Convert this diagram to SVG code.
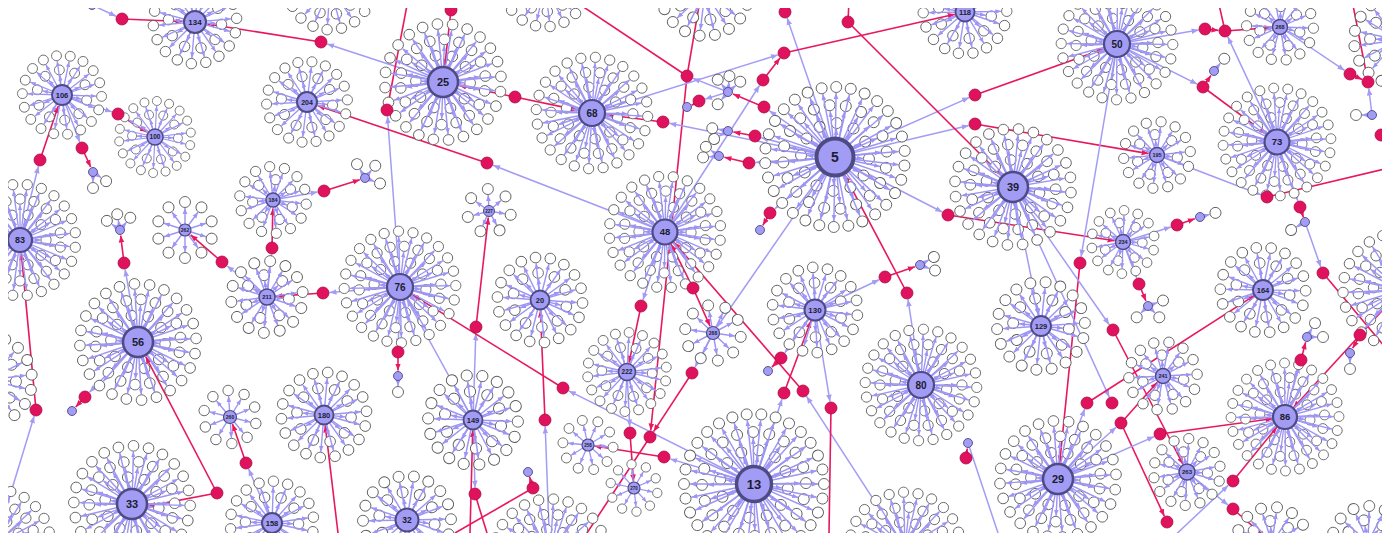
<svg xmlns="http://www.w3.org/2000/svg" width="1389" height="533" viewBox="0 0 1389 533">
<style>
.sp{stroke:#9d95f5;stroke-width:1.45;marker-end:url(#ap)}
.lf{fill:#fff;stroke:#5c5c5c;stroke-width:.9}
.hb{fill:#a29cf4;stroke:#4e4a82}
.th{fill:#a29cf4;stroke:#4e4a82;stroke-width:.9}
.lb{font-family:"Liberation Sans",Arial,sans-serif;font-weight:bold;text-anchor:middle;fill:#1c1c30}
.rd{fill:#e0115d;stroke:#a80c45;stroke-width:.8}
.pe{stroke:#a39cf5;stroke-width:1.5;fill:none;marker-end:url(#ap2)}
.re{stroke:#e8175f;stroke-width:1.6;fill:none;marker-end:url(#ar)}
.rp{stroke:#e8175f;stroke-width:1.6;fill:none}
.pp{stroke:#a39cf5;stroke-width:1.5;fill:none}
</style>
<defs>
<marker id="ap" viewBox="0 0 10 10" refX="10" refY="5" markerWidth="6" markerHeight="6" markerUnits="userSpaceOnUse" orient="auto"><path d="M0,1L10,5L0,9z" fill="#9d95f5"/></marker>
<marker id="ap2" viewBox="0 0 10 10" refX="10" refY="5" markerWidth="7" markerHeight="7" markerUnits="userSpaceOnUse" orient="auto"><path d="M0,1L10,5L0,9z" fill="#a39cf5"/></marker>
<marker id="ar" viewBox="0 0 10 10" refX="10" refY="5" markerWidth="7" markerHeight="7" markerUnits="userSpaceOnUse" orient="auto"><path d="M0,1L10,5L0,9z" fill="#e8175f"/></marker>
<clipPath id="cv"><rect x="8" y="8" width="1374" height="525"/></clipPath>
<g id="u16"><line x2="10" class="sp"/><circle cx="16" r="5.5" class="lf"/></g>
<g id="u22"><line x2="16" class="sp"/><circle cx="22" r="5.5" class="lf"/></g>
<g id="u28"><line x2="22" class="sp"/><circle cx="28" r="5.5" class="lf"/></g>
<g id="u34"><line x2="28" class="sp"/><circle cx="34" r="5.5" class="lf"/></g>
<g id="u36"><line x2="30" class="sp"/><circle cx="36" r="5.5" class="lf"/></g>
<g id="u44"><line x2="38" class="sp"/><circle cx="44" r="5.5" class="lf"/></g>
<g id="u52"><line x2="46" class="sp"/><circle cx="52" r="5.5" class="lf"/></g>
<g id="u60"><line x2="54" class="sp"/><circle cx="60" r="5.5" class="lf"/></g>
<g id="u70"><line x2="64" class="sp"/><circle cx="70" r="5.5" class="lf"/></g>
<g id="Sa"><use href="#u22"/><use href="#u22" transform="rotate(51.4)"/><use href="#u22" transform="rotate(102.9)"/><use href="#u22" transform="rotate(154.3)"/><use href="#u22" transform="rotate(205.7)"/><use href="#u22" transform="rotate(257.1)"/><use href="#u22" transform="rotate(308.6)"/></g>
<g id="Sb"><use href="#u36" transform="rotate(12.9)"/><use href="#u36" transform="rotate(38.6)"/><use href="#u36" transform="rotate(64.3)"/><use href="#u36" transform="rotate(90)"/><use href="#u36" transform="rotate(115.7)"/><use href="#u36" transform="rotate(141.4)"/><use href="#u36" transform="rotate(167.1)"/><use href="#u36" transform="rotate(192.9)"/><use href="#u36" transform="rotate(218.6)"/><use href="#u36" transform="rotate(244.3)"/><use href="#u36" transform="rotate(270)"/><use href="#u36" transform="rotate(295.7)"/><use href="#u36" transform="rotate(321.4)"/><use href="#u36" transform="rotate(347.1)"/></g>
<g id="Ma"><use href="#u28"/><use href="#u28" transform="rotate(36)"/><use href="#u28" transform="rotate(72)"/><use href="#u28" transform="rotate(108)"/><use href="#u28" transform="rotate(144)"/><use href="#u28" transform="rotate(180)"/><use href="#u28" transform="rotate(216)"/><use href="#u28" transform="rotate(252)"/><use href="#u28" transform="rotate(288)"/><use href="#u28" transform="rotate(324)"/></g>
<g id="Mb"><use href="#u44" transform="rotate(10)"/><use href="#u44" transform="rotate(30)"/><use href="#u44" transform="rotate(50)"/><use href="#u44" transform="rotate(70)"/><use href="#u44" transform="rotate(90)"/><use href="#u44" transform="rotate(110)"/><use href="#u44" transform="rotate(130)"/><use href="#u44" transform="rotate(150)"/><use href="#u44" transform="rotate(170)"/><use href="#u44" transform="rotate(190)"/><use href="#u44" transform="rotate(210)"/><use href="#u44" transform="rotate(230)"/><use href="#u44" transform="rotate(250)"/><use href="#u44" transform="rotate(270)"/><use href="#u44" transform="rotate(290)"/><use href="#u44" transform="rotate(310)"/><use href="#u44" transform="rotate(330)"/><use href="#u44" transform="rotate(350)"/></g>
<g id="Lc"><use href="#u60" transform="rotate(7.5)"/><use href="#u60" transform="rotate(22.5)"/><use href="#u60" transform="rotate(37.5)"/><use href="#u60" transform="rotate(52.5)"/><use href="#u60" transform="rotate(67.5)"/><use href="#u60" transform="rotate(82.5)"/><use href="#u60" transform="rotate(97.5)"/><use href="#u60" transform="rotate(112.5)"/><use href="#u60" transform="rotate(127.5)"/><use href="#u60" transform="rotate(142.5)"/><use href="#u60" transform="rotate(157.5)"/><use href="#u60" transform="rotate(172.5)"/><use href="#u60" transform="rotate(187.5)"/><use href="#u60" transform="rotate(202.5)"/><use href="#u60" transform="rotate(217.5)"/><use href="#u60" transform="rotate(232.5)"/><use href="#u60" transform="rotate(247.5)"/><use href="#u60" transform="rotate(262.5)"/><use href="#u60" transform="rotate(277.5)"/><use href="#u60" transform="rotate(292.5)"/><use href="#u60" transform="rotate(307.5)"/><use href="#u60" transform="rotate(322.5)"/><use href="#u60" transform="rotate(337.5)"/><use href="#u60" transform="rotate(352.5)"/></g>
<g id="Xa"><use href="#u34"/><use href="#u34" transform="rotate(30)"/><use href="#u34" transform="rotate(60)"/><use href="#u34" transform="rotate(90)"/><use href="#u34" transform="rotate(120)"/><use href="#u34" transform="rotate(150)"/><use href="#u34" transform="rotate(180)"/><use href="#u34" transform="rotate(210)"/><use href="#u34" transform="rotate(240)"/><use href="#u34" transform="rotate(270)"/><use href="#u34" transform="rotate(300)"/><use href="#u34" transform="rotate(330)"/></g>
<g id="Xb"><use href="#u52" transform="rotate(9)"/><use href="#u52" transform="rotate(27)"/><use href="#u52" transform="rotate(45)"/><use href="#u52" transform="rotate(63)"/><use href="#u52" transform="rotate(81)"/><use href="#u52" transform="rotate(99)"/><use href="#u52" transform="rotate(117)"/><use href="#u52" transform="rotate(135)"/><use href="#u52" transform="rotate(153)"/><use href="#u52" transform="rotate(171)"/><use href="#u52" transform="rotate(189)"/><use href="#u52" transform="rotate(207)"/><use href="#u52" transform="rotate(225)"/><use href="#u52" transform="rotate(243)"/><use href="#u52" transform="rotate(261)"/><use href="#u52" transform="rotate(279)"/><use href="#u52" transform="rotate(297)"/><use href="#u52" transform="rotate(315)"/><use href="#u52" transform="rotate(333)"/><use href="#u52" transform="rotate(351)"/></g>
<g id="Xc"><use href="#u70" transform="rotate(4)"/><use href="#u70" transform="rotate(16)"/><use href="#u70" transform="rotate(28)"/><use href="#u70" transform="rotate(40)"/><use href="#u70" transform="rotate(52)"/><use href="#u70" transform="rotate(64)"/><use href="#u70" transform="rotate(76)"/><use href="#u70" transform="rotate(88)"/><use href="#u70" transform="rotate(100)"/><use href="#u70" transform="rotate(112)"/><use href="#u70" transform="rotate(124)"/><use href="#u70" transform="rotate(136)"/><use href="#u70" transform="rotate(148)"/><use href="#u70" transform="rotate(160)"/><use href="#u70" transform="rotate(172)"/><use href="#u70" transform="rotate(184)"/><use href="#u70" transform="rotate(196)"/><use href="#u70" transform="rotate(208)"/><use href="#u70" transform="rotate(220)"/><use href="#u70" transform="rotate(232)"/><use href="#u70" transform="rotate(244)"/><use href="#u70" transform="rotate(256)"/><use href="#u70" transform="rotate(268)"/><use href="#u70" transform="rotate(280)"/><use href="#u70" transform="rotate(292)"/><use href="#u70" transform="rotate(304)"/><use href="#u70" transform="rotate(316)"/><use href="#u70" transform="rotate(328)"/><use href="#u70" transform="rotate(340)"/><use href="#u70" transform="rotate(352)"/></g>
<g id="TS"><use href="#Sa"/><use href="#Sb"/></g>
<g id="TM"><use href="#Ma"/><use href="#Mb"/></g>
<g id="TL"><use href="#Ma"/><use href="#Mb"/><use href="#Lc"/></g>
<g id="TX"><use href="#Xa"/><use href="#Xb"/><use href="#Xc"/></g>
</defs>
<rect width="1389" height="533" fill="#fff"/>
<g clip-path="url(#cv)">
<g id="connectors">
<line class="pe" x1="92" y1="5" x2="116.1" y2="16.3"/>
<line class="re" x1="122" y1="19" x2="182.5" y2="21.5"/>
<line class="pe" x1="443" y1="82" x2="327.2" y2="44"/>
<line class="re" x1="321" y1="42" x2="207.3" y2="24"/>
<line class="pe" x1="20" y1="240" x2="38.4" y2="166.3"/>
<line class="re" x1="40" y1="160" x2="58.3" y2="105.9"/>
<line class="pe" x1="62" y1="95" x2="111.8" y2="111.9"/>
<line class="re" x1="118" y1="114" x2="146.9" y2="132"/>
<line class="pe" x1="62" y1="95" x2="79.7" y2="141.9"/>
<line class="re" x1="82" y1="148" x2="90.7" y2="167"/>
<line class="pe" x1="400" y1="287" x2="387.5" y2="116.5"/>
<line class="rp" x1="387" y1="110" x2="408" y2="0"/>
<line class="re" x1="451" y1="10" x2="444.8" y2="65.6"/>
<line class="re" x1="515" y1="97" x2="459.2" y2="85.4"/>
<line class="re" x1="515" y1="97" x2="577.8" y2="110.1"/>
<line class="pe" x1="665" y1="232" x2="493.1" y2="165.3"/>
<line class="re" x1="487" y1="163" x2="317.9" y2="105.7"/>
<line class="pe" x1="273" y1="200" x2="317.6" y2="192.1"/>
<line class="re" x1="324" y1="191" x2="359.8" y2="179.7"/>
<line class="pe" x1="267" y1="297" x2="271.3" y2="254.5"/>
<line class="re" x1="272" y1="248" x2="272.8" y2="208.5"/>
<line class="pe" x1="267" y1="297" x2="227.1" y2="266"/>
<line class="re" x1="222" y1="262" x2="190.7" y2="234.9"/>
<line class="pe" x1="138" y1="342" x2="125.1" y2="269.4"/>
<line class="re" x1="124" y1="263" x2="120.7" y2="235.5"/>
<line class="pe" x1="400" y1="287" x2="329.5" y2="292.5"/>
<line class="re" x1="323" y1="293" x2="275.5" y2="296.4"/>
<line class="pe" x1="272" y1="523" x2="248.6" y2="469"/>
<line class="re" x1="246" y1="463" x2="232.5" y2="424.1"/>
<line class="re" x1="217" y1="493" x2="145.7" y2="356.6"/>
<line class="re" x1="217" y1="493" x2="148.4" y2="506.1"/>
<line class="pe" x1="138" y1="342" x2="89.5" y2="392.3"/>
<line class="re" x1="85" y1="397" x2="75.7" y2="407"/>
<line class="pe" x1="-5" y1="545" x2="34.1" y2="416.2"/>
<line class="re" x1="36" y1="410" x2="21.3" y2="253.4"/>
<line class="pe" x1="400" y1="287" x2="398.2" y2="345.5"/>
<line class="re" x1="398" y1="352" x2="398" y2="370.5"/>
<line class="pe" x1="473" y1="420" x2="475.8" y2="333.5"/>
<line class="re" x1="476" y1="327" x2="488.3" y2="217.5"/>
<line class="pe" x1="754" y1="484" x2="568.8" y2="390.9"/>
<line class="re" x1="563" y1="388" x2="412.3" y2="294.6"/>
<line class="pe" x1="550" y1="556" x2="545.2" y2="426.5"/>
<line class="re" x1="545" y1="420" x2="540.4" y2="310.5"/>
<line class="pe" x1="665" y1="232" x2="643" y2="299.8"/>
<line class="re" x1="641" y1="306" x2="629" y2="362.7"/>
<line class="pe" x1="627" y1="372" x2="629.7" y2="426.5"/>
<line class="re" x1="630" y1="433" x2="633.5" y2="481.5"/>
<line class="rp" x1="700" y1="0" x2="687" y2="76"/>
<line class="rp" x1="573" y1="0" x2="687" y2="76"/>
<line class="re" x1="687" y1="76" x2="650.7" y2="430.5"/>
<line class="pe" x1="713" y1="333" x2="695" y2="367.2"/>
<line class="re" x1="692" y1="373" x2="653.6" y2="431.6"/>
<line class="rp" x1="650" y1="437" x2="587" y2="533"/>
<line class="pe" x1="754" y1="484" x2="670.2" y2="458.9"/>
<line class="re" x1="664" y1="457" x2="594.4" y2="446"/>
<line class="re" x1="693" y1="288" x2="671" y2="244.1"/>
<line class="re" x1="693" y1="288" x2="710" y2="326.1"/>
<line class="re" x1="803" y1="391" x2="673.9" y2="242.2"/>
<line class="pe" x1="905" y1="548" x2="806.6" y2="396.4"/>
<line class="pe" x1="815" y1="310" x2="784.8" y2="352.7"/>
<line class="re" x1="781" y1="358" x2="771.9" y2="367.1"/>
<line class="pe" x1="754" y1="484" x2="782" y2="399.2"/>
<line class="re" x1="784" y1="393" x2="811" y2="320.8"/>
<line class="pe" x1="815" y1="310" x2="830" y2="401.6"/>
<line class="rp" x1="831" y1="408" x2="829" y2="533"/>
<line class="pe" x1="815" y1="310" x2="879.1" y2="279.8"/>
<line class="re" x1="885" y1="277" x2="914.8" y2="266.8"/>
<line class="pe" x1="921" y1="385" x2="908" y2="299.4"/>
<line class="re" x1="907" y1="293" x2="844.6" y2="175.1"/>
<line class="pe" x1="835" y1="157" x2="942.2" y2="212"/>
<line class="re" x1="948" y1="215" x2="1114.6" y2="240.7"/>
<line class="pe" x1="835" y1="157" x2="968.7" y2="125.5"/>
<line class="re" x1="975" y1="124" x2="1148.6" y2="153.6"/>
<line class="pe" x1="835" y1="157" x2="969.1" y2="97.6"/>
<line class="re" x1="975" y1="95" x2="1103.4" y2="48.9"/>
<line class="re" x1="848" y1="22" x2="1001.3" y2="175.3"/>
<line class="rp" x1="849" y1="0" x2="848" y2="22"/>
<line class="pe" x1="835" y1="157" x2="787.1" y2="18.1"/>
<line class="pe" x1="592" y1="113" x2="777.8" y2="54.9"/>
<line class="re" x1="784" y1="53" x2="954.8" y2="14.3"/>
<line class="re" x1="763" y1="80" x2="780" y2="58.1"/>
<line class="pe" x1="665" y1="232" x2="759.5" y2="85.5"/>
<line class="pe" x1="835" y1="157" x2="761.3" y2="137.7"/>
<line class="re" x1="755" y1="136" x2="733.4" y2="132"/>
<line class="pe" x1="835" y1="157" x2="755.5" y2="162.5"/>
<line class="re" x1="749" y1="163" x2="724.4" y2="157.3"/>
<line class="pe" x1="835" y1="157" x2="769.3" y2="110.7"/>
<line class="re" x1="764" y1="107" x2="733.1" y2="94.1"/>
<line class="pe" x1="728" y1="92" x2="705.2" y2="99.1"/>
<line class="re" x1="699" y1="101" x2="691.7" y2="105.2"/>
<line class="pe" x1="728" y1="92" x2="693.1" y2="78.4"/>
<line class="pe" x1="835" y1="157" x2="669.4" y2="123.3"/>
<line class="re" x1="663" y1="122" x2="606.4" y2="114.8"/>
<line class="pe" x1="835" y1="157" x2="774.9" y2="208.8"/>
<line class="re" x1="770" y1="213" x2="762.8" y2="225.3"/>
<line class="pe" x1="1117" y1="44" x2="1198.6" y2="30.1"/>
<line class="re" x1="1205" y1="29" x2="1218.5" y2="30.4"/>
<line class="re" x1="1225" y1="31" x2="1271.5" y2="27.6"/>
<line class="rp" x1="1218" y1="0" x2="1225" y2="31"/>
<line class="pe" x1="1277" y1="142" x2="1227.8" y2="36.9"/>
<line class="pe" x1="1117" y1="44" x2="1197.2" y2="84.1"/>
<line class="re" x1="1203" y1="87" x2="1210.9" y2="75.5"/>
<line class="re" x1="1203" y1="87" x2="1266.2" y2="133.9"/>
<line class="pe" x1="1280" y1="27" x2="1344.6" y2="70.4"/>
<line class="re" x1="1350" y1="74" x2="1362.1" y2="79.4"/>
<line class="rp" x1="1352" y1="0" x2="1368" y2="82"/>
<line class="pe" x1="1372" y1="115" x2="1368.8" y2="88.5"/>
<line class="pe" x1="1157" y1="155" x2="1260.9" y2="194.7"/>
<line class="rp" x1="1267" y1="197" x2="1389" y2="168"/>
<line class="pe" x1="1277" y1="142" x2="1297.8" y2="200.9"/>
<line class="re" x1="1300" y1="207" x2="1303.4" y2="217.3"/>
<line class="pe" x1="1117" y1="44" x2="1081.1" y2="256.6"/>
<line class="re" x1="1080" y1="263" x2="1059.7" y2="462.6"/>
<line class="pe" x1="1123" y1="242" x2="1136.7" y2="277.9"/>
<line class="re" x1="1139" y1="284" x2="1145.9" y2="300.9"/>
<line class="pe" x1="1013" y1="187" x2="1109.3" y2="324.7"/>
<line class="re" x1="1113" y1="330" x2="1183.1" y2="464.5"/>
<line class="pe" x1="1013" y1="187" x2="1109.3" y2="397.1"/>
<line class="pe" x1="1058" y1="479" x2="1084.7" y2="409.1"/>
<line class="re" x1="1087" y1="403" x2="1254.2" y2="295.7"/>
<line class="pe" x1="1058" y1="479" x2="1116.1" y2="427.3"/>
<line class="re" x1="1121" y1="423" x2="1157.3" y2="382.3"/>
<line class="re" x1="1121" y1="423" x2="1164.3" y2="516.1"/>
<line class="pe" x1="1058" y1="479" x2="1154.1" y2="436.6"/>
<line class="re" x1="1160" y1="434" x2="1272.6" y2="418.7"/>
<line class="pe" x1="1170" y1="540" x2="1228.2" y2="485.4"/>
<line class="re" x1="1233" y1="481" x2="1277.1" y2="426.7"/>
<line class="pe" x1="1187" y1="472" x2="1227.9" y2="504.9"/>
<line class="re" x1="1233" y1="509" x2="1265.6" y2="537.4"/>
<line class="pe" x1="1285" y1="417" x2="1299.2" y2="366.3"/>
<line class="re" x1="1301" y1="360" x2="1305.6" y2="342.3"/>
<line class="re" x1="1360" y1="335" x2="1352.7" y2="348.2"/>
<line class="re" x1="1360" y1="335" x2="1293.4" y2="407.8"/>
<line class="rp" x1="1389" y1="303" x2="1360" y2="335"/>
<line class="rp" x1="1323" y1="273" x2="1389" y2="352"/>
<line class="pe" x1="1305" y1="222" x2="1320.8" y2="266.9"/>
<line class="re" x1="966" y1="458" x2="967.3" y2="448.5"/>
<line class="pp" x1="968" y1="443" x2="998" y2="533"/>
<line class="pe" x1="1123" y1="242" x2="1170.8" y2="227"/>
<line class="re" x1="1177" y1="225" x2="1194.8" y2="218.8"/>
<line class="pe" x1="473" y1="420" x2="407" y2="299.7"/>
<line class="pe" x1="835" y1="157" x2="717.3" y2="326.8"/>
<line class="pe" x1="1013" y1="187" x2="1038.9" y2="315.7"/>
<line class="pe" x1="473" y1="420" x2="475" y2="487.5"/>
<line class="rp" x1="475" y1="494" x2="487" y2="533"/>
<line class="re" x1="470" y1="533" x2="472.7" y2="430.5"/>
<line class="re" x1="338" y1="533" x2="325.2" y2="425.4"/>
<line class="re" x1="533" y1="488" x2="529.5" y2="476.8"/>
<line class="rp" x1="533" y1="488" x2="455" y2="533"/>
</g>
<g id="partial-hubs">
<use href="#TM" transform="translate(330 -12) rotate(4) scale(.95)"/>
<use href="#TM" transform="translate(545 -15) rotate(13) scale(.95)"/>
<use href="#TM" transform="translate(705 -8) rotate(7)"/>
<use href="#TM" transform="translate(1398 40) rotate(2)"/>
<use href="#TL" transform="translate(1400 290) rotate(5) scale(.95)"/>
<use href="#TL" transform="translate(-5 545) rotate(9) scale(.93)"/>
<use href="#TM" transform="translate(-12 380) rotate(3)"/>
<use href="#TL" transform="translate(550 556) rotate(11) scale(.95)"/>
<use href="#TL" transform="translate(905 548) rotate(6) scale(.93)"/>
<use href="#TS" transform="translate(1272 543) rotate(8)"/>
<use href="#TS" transform="translate(1368 542) rotate(2)"/>
<circle cx="1272" cy="543" r="8" class="hb" stroke-width="1.5"/>
</g>
<g id="n134"><use href="#TM" transform="translate(195 22) rotate(5) scale(.95)"/><circle cx="195" cy="22" r="11" class="hb" stroke-width="2"/><text x="195" y="24.9" class="lb" font-size="8">134</text></g>
<g id="n106"><use href="#TM" transform="translate(62 95) rotate(12) scale(.9)"/><circle cx="62" cy="95" r="10" class="hb" stroke-width="1.8"/><text x="62" y="97.7" class="lb" font-size="7.5">106</text></g>
<g id="n100"><use href="#TM" transform="translate(155 137) rotate(3) scale(.82)"/><circle cx="155" cy="137" r="8" class="hb" stroke-width="1.5"/><text x="155" y="139.3" class="lb" font-size="6.5">100</text></g>
<g id="n83"><use href="#TL" transform="translate(20 240) scale(.93)"/><circle cx="20" cy="240" r="12" class="hb" stroke-width="2.2"/><text x="20" y="243.2" class="lb" font-size="9">83</text></g>
<g id="n56"><use href="#TL" transform="translate(138 342) rotate(4) scale(.97)"/><circle cx="138" cy="342" r="15" class="hb" stroke-width="2.5"/><text x="138" y="346" class="lb" font-size="11">56</text></g>
<g id="n33"><use href="#TL" transform="translate(132 504) rotate(9) scale(.97)"/><circle cx="132" cy="504" r="15" class="hb" stroke-width="2.5"/><text x="132" y="508" class="lb" font-size="11">33</text></g>
<g id="n158"><use href="#TM" transform="translate(272 523) rotate(2) scale(.95)"/><circle cx="272" cy="523" r="10" class="hb" stroke-width="2"/><text x="272" y="525.7" class="lb" font-size="7.5">158</text></g>
<g id="n204"><use href="#TM" transform="translate(307 102) rotate(7) scale(.92)"/><circle cx="307" cy="102" r="10" class="hb" stroke-width="2"/><text x="307" y="104.5" class="lb" font-size="7">204</text></g>
<g id="n25"><use href="#TL" transform="translate(443 82) rotate(2) scale(.97)"/><circle cx="443" cy="82" r="15" class="hb" stroke-width="2.5"/><text x="443" y="86" class="lb" font-size="11">25</text></g>
<g id="n68"><use href="#TL" transform="translate(592 113) rotate(11) scale(.93)"/><circle cx="592" cy="113" r="13" class="hb" stroke-width="2.2"/><text x="592" y="116.6" class="lb" font-size="10">68</text></g>
<g id="n184"><use href="#TS" transform="translate(273 200) rotate(20) scale(.93)"/><circle cx="273" cy="200" r="7" class="hb" stroke-width="1.4"/><text x="273" y="202" class="lb" font-size="5.5">184</text></g>
<g id="n262"><use href="#Ma" transform="translate(185 230) rotate(18)"/><circle cx="185" cy="230" r="6" class="hb" stroke-width="1.2"/><text x="185" y="231.8" class="lb" font-size="5">262</text></g>
<g id="n211"><use href="#TS" transform="translate(267 297) rotate(5)"/><circle cx="267" cy="297" r="8" class="hb" stroke-width="1.5"/><text x="267" y="299.2" class="lb" font-size="6">211</text></g>
<g id="n76"><use href="#TL" transform="translate(400 287) rotate(6) scale(.93)"/><circle cx="400" cy="287" r="13" class="hb" stroke-width="2.2"/><text x="400" y="290.6" class="lb" font-size="10">76</text></g>
<g id="n227"><use href="#Sa" transform="translate(489 211) rotate(10)"/><circle cx="489" cy="211" r="5.5" class="hb" stroke-width="1"/><text x="489" y="212.6" class="lb" font-size="4.5">227</text></g>
<g id="n20"><use href="#TM" transform="translate(540 300) rotate(14) scale(.97)"/><circle cx="540" cy="300" r="9.5" class="hb" stroke-width="1.8"/><text x="540" y="302.7" class="lb" font-size="7.5">20</text></g>
<g id="n48"><use href="#TL" transform="translate(665 232) rotate(1) scale(.93)"/><circle cx="665" cy="232" r="12.5" class="hb" stroke-width="2.2"/><text x="665" y="235.4" class="lb" font-size="9.5">48</text></g>
<g id="n5"><use href="#TX" transform="translate(835 157) rotate(3)"/><circle cx="835" cy="157" r="18.5" class="hb" stroke-width="4"/><text x="835" y="162" class="lb" font-size="14">5</text></g>
<g id="n118"><use href="#TM" transform="translate(965 12) rotate(9) scale(.95)"/><circle cx="965" cy="12" r="9.5" class="hb" stroke-width="1.8"/><text x="965" y="14.7" class="lb" font-size="7.5">118</text></g>
<g id="n50"><use href="#TL" transform="translate(1117 44) rotate(8) scale(.93)"/><circle cx="1117" cy="44" r="13" class="hb" stroke-width="2.2"/><text x="1117" y="47.6" class="lb" font-size="10">50</text></g>
<g id="n39"><use href="#TL" transform="translate(1013 187) rotate(13) scale(.97)"/><circle cx="1013" cy="187" r="15" class="hb" stroke-width="2.5"/><text x="1013" y="191" class="lb" font-size="11">39</text></g>
<g id="n195"><use href="#TS" transform="translate(1157 155) rotate(7) scale(.93)"/><circle cx="1157" cy="155" r="7.5" class="hb" stroke-width="1.4"/><text x="1157" y="157" class="lb" font-size="5.5">195</text></g>
<g id="n73"><use href="#TL" transform="translate(1277 142) rotate(4) scale(.9)"/><circle cx="1277" cy="142" r="12.5" class="hb" stroke-width="2.2"/><text x="1277" y="145.4" class="lb" font-size="9.5">73</text></g>
<g id="n268"><use href="#TS" transform="translate(1280 27) rotate(15) scale(.93)"/><circle cx="1280" cy="27" r="7.5" class="hb" stroke-width="1.4"/><text x="1280" y="29" class="lb" font-size="5.5">268</text></g>
<g id="n234"><use href="#TS" transform="translate(1123 242) rotate(2) scale(.88)"/><circle cx="1123" cy="242" r="7.5" class="hb" stroke-width="1.4"/><text x="1123" y="244" class="lb" font-size="5.5">234</text></g>
<g id="n164"><use href="#TM" transform="translate(1263 290) rotate(11) scale(.97)"/><circle cx="1263" cy="290" r="10" class="hb" stroke-width="1.8"/><text x="1263" y="292.7" class="lb" font-size="7.5">164</text></g>
<g id="n129"><use href="#TM" transform="translate(1041 326) rotate(6)"/><circle cx="1041" cy="326" r="10" class="hb" stroke-width="1.8"/><text x="1041" y="328.7" class="lb" font-size="7.5">129</text></g>
<g id="n130"><use href="#TM" transform="translate(815 310) rotate(17) scale(.97)"/><circle cx="815" cy="310" r="10.5" class="hb" stroke-width="2"/><text x="815" y="312.9" class="lb" font-size="8">130</text></g>
<g id="n288"><use href="#Ma" transform="translate(713 333) rotate(8)"/><circle cx="713" cy="333" r="6.5" class="hb" stroke-width="1.2"/><text x="713" y="334.8" class="lb" font-size="5">288</text></g>
<g id="n222"><use href="#TM" transform="translate(627 372) rotate(3) scale(.9)"/><circle cx="627" cy="372" r="8.5" class="hb" stroke-width="1.6"/><text x="627" y="374.3" class="lb" font-size="6.5">222</text></g>
<g id="n149"><use href="#TM" transform="translate(473 420) rotate(12) scale(1.02)"/><circle cx="473" cy="420" r="9.5" class="hb" stroke-width="1.8"/><text x="473" y="422.7" class="lb" font-size="7.5">149</text></g>
<g id="n180"><use href="#TM" transform="translate(324 415) rotate(5) scale(.97)"/><circle cx="324" cy="415" r="9.5" class="hb" stroke-width="1.8"/><text x="324" y="417.7" class="lb" font-size="7.5">180</text></g>
<g id="n260"><use href="#Ma" transform="translate(230 417) rotate(14) scale(.95)"/><circle cx="230" cy="417" r="6.5" class="hb" stroke-width="1.2"/><text x="230" y="418.8" class="lb" font-size="5">260</text></g>
<g id="n32"><use href="#TM" transform="translate(407 520) rotate(9)"/><circle cx="407" cy="520" r="11.5" class="hb" stroke-width="2"/><text x="407" y="523.1" class="lb" font-size="8.5">32</text></g>
<g id="n13"><use href="#TX" transform="translate(754 484) rotate(8)"/><circle cx="754" cy="484" r="17.5" class="hb" stroke-width="3.5"/><text x="754" y="488.7" class="lb" font-size="13">13</text></g>
<g id="n80"><use href="#TL" transform="translate(921 385) rotate(10) scale(.93)"/><circle cx="921" cy="385" r="13" class="hb" stroke-width="2.2"/><text x="921" y="388.6" class="lb" font-size="10">80</text></g>
<g id="n29"><use href="#TL" transform="translate(1058 479) rotate(3) scale(.97)"/><circle cx="1058" cy="479" r="15" class="hb" stroke-width="2.5"/><text x="1058" y="483" class="lb" font-size="11">29</text></g>
<g id="n241"><use href="#TS" transform="translate(1163 376) rotate(10) scale(.95)"/><circle cx="1163" cy="376" r="7.5" class="hb" stroke-width="1.4"/><text x="1163" y="378" class="lb" font-size="5.5">241</text></g>
<g id="n86"><use href="#TL" transform="translate(1285 417) rotate(7) scale(.9)"/><circle cx="1285" cy="417" r="12" class="hb" stroke-width="2.2"/><text x="1285" y="420.4" class="lb" font-size="9.5">86</text></g>
<g id="n263"><use href="#TS" transform="translate(1187 472) rotate(3) scale(.93)"/><circle cx="1187" cy="472" r="8" class="hb" stroke-width="1.5"/><text x="1187" y="474.2" class="lb" font-size="6">263</text></g>
<g id="n258"><use href="#Ma" transform="translate(588 445) rotate(5) scale(.9)"/><circle cx="588" cy="445" r="6" class="hb" stroke-width="1.2"/><text x="588" y="446.6" class="lb" font-size="4.5">258</text></g>
<g id="n270"><use href="#Ma" transform="translate(634 488) rotate(12) scale(.85)"/><circle cx="634" cy="488" r="6" class="hb" stroke-width="1.2"/><text x="634" y="489.6" class="lb" font-size="4.5">270</text></g>
<g id="t1"><circle cx="92" cy="5" r="4.5" class="th"/></g>
<g id="t2"><use href="#u16" transform="translate(93 172) rotate(90)"/><use href="#u16" transform="translate(93 172) rotate(35)"/><circle cx="93" cy="172" r="4.5" class="th"/></g>
<g id="t3"><use href="#u16" transform="translate(120 230) rotate(-100)"/><use href="#u16" transform="translate(120 230) rotate(-145)"/><use href="#u16" transform="translate(120 230) rotate(-50)"/><circle cx="120" cy="230" r="4.5" class="th"/></g>
<g id="t4"><use href="#u16" transform="translate(365 178) rotate(-120)"/><use href="#u16" transform="translate(365 178) rotate(-50)"/><use href="#u16" transform="translate(365 178) rotate(20)"/><circle cx="365" cy="178" r="4.5" class="th"/></g>
<g id="t5"><circle cx="72" cy="411" r="4.5" class="th"/></g>
<g id="t6"><use href="#u16" transform="translate(398 376) rotate(90)"/><circle cx="398" cy="376" r="4.5" class="th"/></g>
<g id="t7"><circle cx="528" cy="472" r="4.5" class="th"/></g>
<g id="t8"><use href="#u16" transform="translate(728 92) rotate(-85)"/><use href="#u16" transform="translate(728 92) rotate(-40)"/><use href="#u16" transform="translate(728 92) rotate(-130)"/><use href="#u16" transform="translate(728 92) rotate(130)"/><circle cx="728" cy="92" r="4.5" class="th"/></g>
<g id="t9"><circle cx="687" cy="107" r="4.5" class="th"/></g>
<g id="t10"><use href="#u16" transform="translate(728 131) rotate(-170)"/><use href="#u16" transform="translate(728 131) rotate(150)"/><circle cx="728" cy="131" r="4.5" class="th"/></g>
<g id="t11"><use href="#u16" transform="translate(719 156) rotate(-145)"/><use href="#u16" transform="translate(719 156) rotate(175)"/><circle cx="719" cy="156" r="4.5" class="th"/></g>
<g id="t12"><circle cx="760" cy="230" r="4.5" class="th"/></g>
<g id="t13"><circle cx="768" cy="371" r="4.5" class="th"/></g>
<g id="t14"><use href="#u16" transform="translate(920 265) rotate(-30)"/><use href="#u16" transform="translate(920 265) rotate(20)"/><circle cx="920" cy="265" r="4.5" class="th"/></g>
<g id="t15"><circle cx="968" cy="443" r="4.5" class="th"/></g>
<g id="t16"><use href="#u16" transform="translate(1148 306) rotate(-20)"/><use href="#u16" transform="translate(1148 306) rotate(45)"/><use href="#u16" transform="translate(1148 306) rotate(135)"/><circle cx="1148" cy="306" r="4.5" class="th"/></g>
<g id="t17"><use href="#u16" transform="translate(1214 71) rotate(-50)"/><circle cx="1214" cy="71" r="4.5" class="th"/></g>
<g id="t18"><use href="#u16" transform="translate(1200 217) rotate(-15)"/><circle cx="1200" cy="217" r="4.5" class="th"/></g>
<g id="t19"><use href="#u16" transform="translate(1307 337) rotate(-60)"/><use href="#u16" transform="translate(1307 337) rotate(0)"/><circle cx="1307" cy="337" r="4.5" class="th"/></g>
<g id="t20"><use href="#u16" transform="translate(1305 222) rotate(150)"/><circle cx="1305" cy="222" r="4.5" class="th"/></g>
<g id="t21"><use href="#u16" transform="translate(1350 353) rotate(90)"/><circle cx="1350" cy="353" r="4.5" class="th"/></g>
<g id="t22"><use href="#u16" transform="translate(1372 115) rotate(180)"/><circle cx="1372" cy="115" r="4.5" class="th"/></g>
<g id="r1"><circle cx="122" cy="19" r="6" class="rd"/></g>
<g id="r2"><circle cx="321" cy="42" r="6" class="rd"/></g>
<g id="r3"><circle cx="387" cy="110" r="6" class="rd"/></g>
<g id="r4"><circle cx="451" cy="10" r="6" class="rd"/></g>
<g id="r5"><circle cx="515" cy="97" r="6" class="rd"/></g>
<g id="r6"><circle cx="487" cy="163" r="6" class="rd"/></g>
<g id="r7"><circle cx="40" cy="160" r="6" class="rd"/></g>
<g id="r8"><circle cx="118" cy="114" r="6" class="rd"/></g>
<g id="r9"><circle cx="82" cy="148" r="6" class="rd"/></g>
<g id="r10"><circle cx="324" cy="191" r="6" class="rd"/></g>
<g id="r11"><circle cx="272" cy="248" r="6" class="rd"/></g>
<g id="r12"><circle cx="222" cy="262" r="6" class="rd"/></g>
<g id="r13"><circle cx="124" cy="263" r="6" class="rd"/></g>
<g id="r14"><circle cx="323" cy="293" r="6" class="rd"/></g>
<g id="r15"><circle cx="246" cy="463" r="6" class="rd"/></g>
<g id="r16"><circle cx="217" cy="493" r="6" class="rd"/></g>
<g id="r17"><circle cx="85" cy="397" r="6" class="rd"/></g>
<g id="r18"><circle cx="36" cy="410" r="6" class="rd"/></g>
<g id="r19"><circle cx="398" cy="352" r="6" class="rd"/></g>
<g id="r20"><circle cx="476" cy="327" r="6" class="rd"/></g>
<g id="r21"><circle cx="563" cy="388" r="6" class="rd"/></g>
<g id="r22"><circle cx="545" cy="420" r="6" class="rd"/></g>
<g id="r23"><circle cx="641" cy="306" r="6" class="rd"/></g>
<g id="r24"><circle cx="630" cy="433" r="6" class="rd"/></g>
<g id="r25"><circle cx="650" cy="437" r="6" class="rd"/></g>
<g id="r26"><circle cx="664" cy="457" r="6" class="rd"/></g>
<g id="r27"><circle cx="693" cy="288" r="6" class="rd"/></g>
<g id="r28"><circle cx="692" cy="373" r="6" class="rd"/></g>
<g id="r29"><circle cx="781" cy="358" r="6" class="rd"/></g>
<g id="r30"><circle cx="784" cy="393" r="6" class="rd"/></g>
<g id="r31"><circle cx="803" cy="391" r="6" class="rd"/></g>
<g id="r32"><circle cx="831" cy="408" r="6" class="rd"/></g>
<g id="r33"><circle cx="885" cy="277" r="6" class="rd"/></g>
<g id="r34"><circle cx="907" cy="293" r="6" class="rd"/></g>
<g id="r35"><circle cx="948" cy="215" r="6" class="rd"/></g>
<g id="r36"><circle cx="975" cy="124" r="6" class="rd"/></g>
<g id="r37"><circle cx="975" cy="95" r="6" class="rd"/></g>
<g id="r38"><circle cx="848" cy="22" r="6" class="rd"/></g>
<g id="r39"><circle cx="785" cy="12" r="6" class="rd"/></g>
<g id="r40"><circle cx="784" cy="53" r="6" class="rd"/></g>
<g id="r41"><circle cx="763" cy="80" r="6" class="rd"/></g>
<g id="r42"><circle cx="755" cy="136" r="6" class="rd"/></g>
<g id="r43"><circle cx="749" cy="163" r="6" class="rd"/></g>
<g id="r44"><circle cx="764" cy="107" r="6" class="rd"/></g>
<g id="r45"><circle cx="699" cy="101" r="6" class="rd"/></g>
<g id="r46"><circle cx="663" cy="122" r="6" class="rd"/></g>
<g id="r47"><circle cx="770" cy="213" r="6" class="rd"/></g>
<g id="r48"><circle cx="1205" cy="29" r="6" class="rd"/></g>
<g id="r49"><circle cx="1225" cy="31" r="6" class="rd"/></g>
<g id="r50"><circle cx="1203" cy="87" r="6" class="rd"/></g>
<g id="r51"><circle cx="1350" cy="74" r="6" class="rd"/></g>
<g id="r52"><circle cx="1368" cy="82" r="6" class="rd"/></g>
<g id="r53"><circle cx="1267" cy="197" r="6" class="rd"/></g>
<g id="r54"><circle cx="1300" cy="207" r="6" class="rd"/></g>
<g id="r55"><circle cx="1080" cy="263" r="6" class="rd"/></g>
<g id="r56"><circle cx="1139" cy="284" r="6" class="rd"/></g>
<g id="r57"><circle cx="1113" cy="330" r="6" class="rd"/></g>
<g id="r58"><circle cx="1087" cy="403" r="6" class="rd"/></g>
<g id="r59"><circle cx="1112" cy="403" r="6" class="rd"/></g>
<g id="r60"><circle cx="1121" cy="423" r="6" class="rd"/></g>
<g id="r61"><circle cx="1160" cy="434" r="6" class="rd"/></g>
<g id="r62"><circle cx="1233" cy="481" r="6" class="rd"/></g>
<g id="r63"><circle cx="1233" cy="509" r="6" class="rd"/></g>
<g id="r64"><circle cx="1167" cy="522" r="6" class="rd"/></g>
<g id="r65"><circle cx="1301" cy="360" r="6" class="rd"/></g>
<g id="r66"><circle cx="1360" cy="335" r="6" class="rd"/></g>
<g id="r67"><circle cx="1323" cy="273" r="6" class="rd"/></g>
<g id="r68"><circle cx="966" cy="458" r="6" class="rd"/></g>
<g id="r69"><circle cx="1177" cy="225" r="6" class="rd"/></g>
<g id="r71"><circle cx="687" cy="76" r="6" class="rd"/></g>
<g id="r72"><circle cx="475" cy="494" r="6" class="rd"/></g>
<g id="r73"><circle cx="533" cy="488" r="6" class="rd"/></g>
<g id="r74"><circle cx="1381" cy="135" r="6" class="rd"/></g>
</g>
</svg>
